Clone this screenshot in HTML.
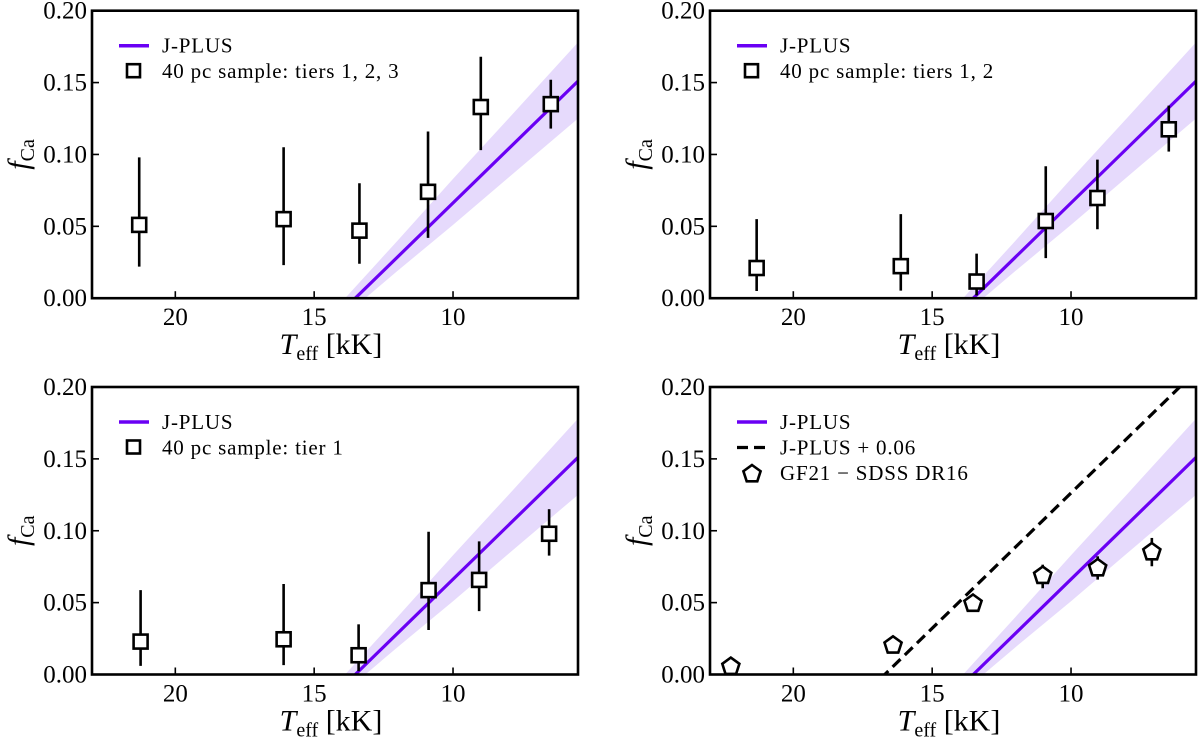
<!DOCTYPE html>
<html><head><meta charset="utf-8"><style>
html,body{margin:0;padding:0;background:#fff;overflow:hidden;width:1200px;height:741px;}
svg{display:block;font-family:"Liberation Serif",serif;}
</style></head><body>
<svg id="fig" width="1200" height="741" viewBox="0 0 1200 741" xmlns="http://www.w3.org/2000/svg"></svg>
<script>
// ---- data ----
const xTicks = [20, 15, 10];
const yTicks = [0.00, 0.05, 0.10, 0.15, 0.20];
const yTickLabels = ["0.00", "0.05", "0.10", "0.15", "0.20"];
const jplusT = [13.52, 5.5];
const jplusF = [0.0, 0.151];
const bandT = [14.5, 12, 10, 8, 5.5];
const bandUpper = [-0.013, 0.040, 0.083, 0.125, 0.178];
const bandLower = [-0.022, 0.019, 0.051, 0.084, 0.125];
const jplusOffset = [0.06];

const p1T = [21.3, 16.1, 13.37, 10.9, 9.0, 6.48];
const p1F = [0.051, 0.055, 0.047, 0.074, 0.133, 0.135];
const p1Hi = [0.098, 0.105, 0.080, 0.116, 0.168, 0.152];
const p1Lo = [0.022, 0.023, 0.024, 0.042, 0.103, 0.118];

const p2T = [21.32, 16.13, 13.40, 10.91, 9.05, 6.48];
const p2F = [0.021, 0.0223, 0.0116, 0.0537, 0.0697, 0.1175];
const p2Hi = [0.055, 0.0585, 0.031, 0.0918, 0.0964, 0.134];
const p2Lo = [0.005, 0.0053, 0.002, 0.0279, 0.048, 0.102];

const p3T = [21.25, 16.10, 13.40, 10.88, 9.06, 6.54];
const p3F = [0.0229, 0.0245, 0.0134, 0.0587, 0.0658, 0.0979];
const p3Hi = [0.0587, 0.063, 0.0349, 0.0993, 0.0926, 0.115];
const p3Lo = [0.006, 0.0065, 0.0023, 0.031, 0.0441, 0.0827];

const p4T = [22.25, 16.41, 13.53, 11.02, 9.04, 7.09];
const p4F = [0.0055, 0.0203, 0.0494, 0.0688, 0.0741, 0.0852];
const p4Hi = [0.0055, 0.0203, 0.0494, 0.0764, 0.0822, 0.095];
const p4Lo = [0.0055, 0.0203, 0.0494, 0.060, 0.066, 0.0753];

const legend1 = ["J-PLUS", "40 pc sample: tiers 1, 2, 3"];
const legend2 = ["J-PLUS", "40 pc sample: tiers 1, 2"];
const legend3 = ["J-PLUS", "40 pc sample: tier 1"];
const legend4 = ["J-PLUS", "J-PLUS + 0.06", "GF21 \u2212 SDSS DR16"];

// ---- drawing ----
const NS = "http://www.w3.org/2000/svg";
const svg = document.getElementById("fig");
function mk(tag, attrs, parent) {
  const e = document.createElementNS(NS, tag);
  for (const k in attrs) e.setAttribute(k, attrs[k]);
  (parent || svg).appendChild(e);
  return e;
}
const W = 486, H = 287.5, XMIN = 23.0, XMAX = 5.5, YMIN = 0, YMAX = 0.2;
const LINEC = "#6a00f4", BANDC = "#e6dafc";

function panel(idx, x0, y0, T, F, Hi, Lo, legendLabels, pent) {
  const sx = t => x0 + (XMIN - t) / (XMIN - XMAX) * W;
  const sy = v => y0 + H - (v - YMIN) / (YMAX - YMIN) * H;
  const g = mk("g", {});
  
  
  const cid = "clip" + idx;
  const cp = mk("clipPath", {id: cid}, g);
  mk("rect", {x: x0, y: y0, width: W, height: H}, cp);
  const plot = mk("g", {"clip-path": "url(#" + cid + ")"}, g);
  let d = "";
  bandT.forEach((t, i) => { d += (i ? "L" : "M") + sx(t) + "," + sy(bandUpper[i]); });
  for (let i = bandT.length - 1; i >= 0; i--) d += "L" + sx(bandT[i]) + "," + sy(bandLower[i]);
  const band = mk("path", {d: d + "Z", fill: BANDC}, plot);
  
  
  if (pent) {
    const slope = (jplusF[1] - jplusF[0]) / (jplusT[1] - jplusT[0]);
    const tA = 23, tB = 5.5;
    const fA = jplusF[0] + slope * (tA - jplusT[0]) + jplusOffset[0];
    const fB = jplusF[0] + slope * (tB - jplusT[0]) + jplusOffset[0];
    const dl = mk("line", {x1: sx(tA), y1: sy(fA), x2: sx(tB), y2: sy(fB), stroke: "#000", "stroke-width": 3.2, "stroke-dasharray": "11,6"}, plot);
    
    
  }
  const ln = mk("line", {x1: sx(jplusT[0]), y1: sy(jplusF[0]), x2: sx(jplusT[1]), y2: sy(jplusF[1]), stroke: LINEC, "stroke-width": 3.2}, plot);
  
  
  T.forEach((t, i) => {
    const px = sx(t), py = sy(F[i]);
    const eb = mk("line", {x1: px, y1: sy(Hi[i]), x2: px, y2: sy(Lo[i]), stroke: "#000", "stroke-width": 2.6}, plot);
    
    
    let m;
    if (pent) {
      let pts = [];
      for (let k = 0; k < 5; k++) { const a = -Math.PI / 2 + k * 2 * Math.PI / 5; pts.push((px + 9 * Math.cos(a)).toFixed(1) + "," + (py + 9 * Math.sin(a)).toFixed(1)); }
      m = mk("polygon", {points: pts.join(" "), fill: "#fff", stroke: "#000", "stroke-width": 2.6}, plot);
    } else {
      m = mk("rect", {x: px - 7, y: py - 7, width: 14, height: 14, fill: "#fff", stroke: "#000", "stroke-width": 2.6}, plot);
    }
    
    
  });
  const fr = mk("rect", {x: x0, y: y0, width: W, height: H, fill: "none", stroke: "#000", "stroke-width": 2.6}, g);
  
  
  xTicks.forEach(t => {
    const tk = mk("line", {x1: sx(t), y1: y0 + H, x2: sx(t), y2: y0 + H - 7, stroke: "#000", "stroke-width": 1.6}, g);
    
    
    const tl = mk("text", {x: sx(t), y: y0 + H + 27, "text-anchor": "middle", "font-size": 25}, g);
    tl.textContent = String(t);
    
    
  });
  yTicks.forEach((v, i) => {
    const tk = mk("line", {x1: x0, y1: sy(v), x2: x0 + 7, y2: sy(v), stroke: "#000", "stroke-width": 1.6}, g);
    
    
    const tl = mk("text", {x: x0 - 5, y: sy(v) + 8, "text-anchor": "end", "font-size": 25}, g);
    tl.textContent = yTickLabels[i];
    
    
  });
  const xt = mk("text", {x: x0 + W / 2 - 4, y: y0 + H + 56, "text-anchor": "middle", "font-size": 30}, g);
  xt.innerHTML = '<tspan font-style="italic">T</tspan><tspan font-size="20" dy="6">eff</tspan><tspan dy="-6"> [kK]</tspan>';
  
  
  const yt = mk("text", {x: 0, y: 0, "text-anchor": "middle", "font-size": 30, transform: "translate(" + (x0 - 64) + "," + (y0 + H / 2) + ") rotate(-90)"}, g);
  yt.innerHTML = '<tspan font-style="italic">f</tspan><tspan font-size="20" dy="6">Ca</tspan>';
  
  
  const lg = mk("g", {}, g);
  
  
  legendLabels.forEach((lab, i) => {
    const ry = y0 + 35 + i * 25.5;
    let sym;
    if (i === 0) sym = mk("line", {x1: x0 + 27, y1: ry, x2: x0 + 57, y2: ry, stroke: LINEC, "stroke-width": 3.5}, lg);
    else if (pent && i === 1) sym = mk("line", {x1: x0 + 27, y1: ry, x2: x0 + 60, y2: ry, stroke: "#000", "stroke-width": 3.2, "stroke-dasharray": "11,6"}, lg);
    else if (pent) {
      let pts = [];
      for (let k = 0; k < 5; k++) { const a = -Math.PI / 2 + k * 2 * Math.PI / 5; pts.push((x0 + 42 + 9 * Math.cos(a)).toFixed(1) + "," + (ry + 1 + 9 * Math.sin(a)).toFixed(1)); }
      sym = mk("polygon", {points: pts.join(" "), fill: "#fff", stroke: "#000", "stroke-width": 2.6}, lg);
    } else sym = mk("rect", {x: x0 + 35, y: ry - 7, width: 13, height: 13, fill: "#fff", stroke: "#000", "stroke-width": 2.6}, lg);
    
    
    const tx = mk("text", {x: x0 + 70, y: ry + 7, "font-size": 21, "letter-spacing": 0.8}, lg);
    tx.textContent = lab;
    
    
  });
}
panel(1, 92, 10.7, p1T, p1F, p1Hi, p1Lo, legend1, false);
panel(2, 710, 10.7, p2T, p2F, p2Hi, p2Lo, legend2, false);
panel(3, 92, 387, p3T, p3F, p3Hi, p3Lo, legend3, false);
panel(4, 710, 387, p4T, p4F, p4Hi, p4Lo, legend4, true);
</script>
</body></html>
